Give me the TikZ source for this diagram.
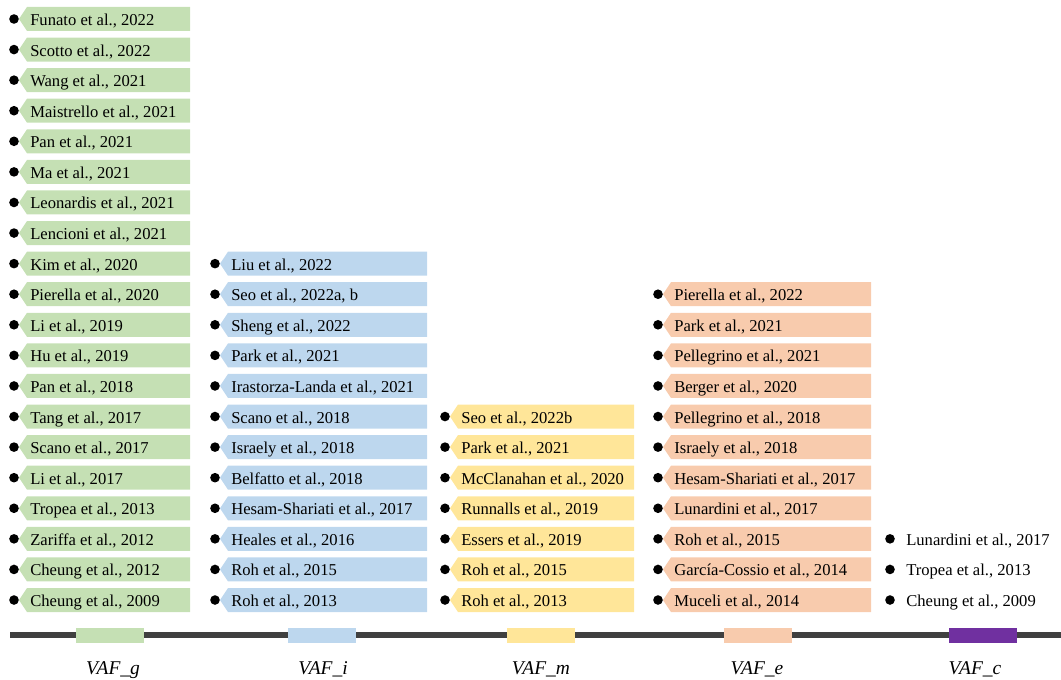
\documentclass[tikz,border=0pt]{standalone}
\usepackage{fontspec}
\setmainfont{Liberation Serif}
\definecolor{vafg}{HTML}{C5E0B4}
\definecolor{vafi}{HTML}{BDD7EE}
\definecolor{vafm}{HTML}{FFE699}
\definecolor{vafe}{HTML}{F8CBAD}
\definecolor{vafc}{HTML}{7030A0}
\definecolor{axisgray}{HTML}{404040}

% one column of studies: #1 name, #2 fill, #3 bullet x, #4 right edge, #5 first row, #6 entries
\newcommand{\vafcolumn}[6]{%
  \foreach \entry [count=\i from #5] in {#6} {
    \path[fill=#2, shift={(#3,19+30.58*\i)}]
      (5,0) -- (13,-12) -- (#4-#3,-12) -- (#4-#3,12) -- (13,12) -- cycle;
    \fill (#3,19+30.58*\i) circle (3.6pt);
    \node[studytext] (#1-\i) at (#3+16,25.5+30.58*\i) {\entry};
  }}

\begin{document}
\begin{tikzpicture}[x=0.75pt, y=-0.75pt,
      font=\fontsize{12.45}{15}\selectfont,
      studytext/.style={anchor=base west, inner sep=0pt},
      vafbar/.style={minimum width=51pt, minimum height=11.25pt, inner sep=0pt},
      vaflabel/.style={anchor=base, inner sep=0pt, font=\fontsize{14.6}{17}\selectfont\itshape}]
  \useasboundingbox (0,0) rectangle (1061,680);

  \vafcolumn{g}{vafg}{14}{190}{0}{{Funato et al., 2022},{Scotto et al., 2022},
    {Wang et al., 2021},{Maistrello et al., 2021},{Pan et al., 2021},{Ma et al., 2021},
    {Leonardis et al., 2021},{Lencioni et al., 2021},{Kim et al., 2020},
    {Pierella et al., 2020},{Li et al., 2019},{Hu et al., 2019},{Pan et al., 2018},
    {Tang et al., 2017},{Scano et al., 2017},{Li et al., 2017},{Tropea et al., 2013},
    {Zariffa et al., 2012},{Cheung et al., 2012},{Cheung et al., 2009}}
  \vafcolumn{i}{vafi}{215}{427}{8}{{Liu et al., 2022},{Seo et al., 2022a, b},
    {Sheng et al., 2022},{Park et al., 2021},{Irastorza-Landa et al., 2021},
    {Scano et al., 2018},{Israely et al., 2018},{Belfatto et al., 2018},
    {Hesam-Shariati et al., 2017},{Heales et al., 2016},{Roh et al., 2015},
    {Roh et al., 2013}}
  \vafcolumn{m}{vafm}{445}{634}{13}{{Seo et al., 2022b},{Park et al., 2021},
    {McClanahan et al., 2020},{Runnalls et al., 2019},{Essers et al., 2019},
    {Roh et al., 2015},{Roh et al., 2013}}
  \vafcolumn{e}{vafe}{658}{871}{9}{{Pierella et al., 2022},{Park et al., 2021},
    {Pellegrino et al., 2021},{Berger et al., 2020},{Pellegrino et al., 2018},
    {Israely et al., 2018},{Hesam-Shariati et al., 2017},{Lunardini et al., 2017},
    {Roh et al., 2015},{García-Cossio et al., 2014},{Muceli et al., 2014}}
  \vafcolumn{c}{none}{890}{890}{17}{{Lunardini et al., 2017},{Tropea et al., 2013},
    {Cheung et al., 2009}}

  % axis with the five groups
  \coordinate (axl) at (10,635);
  \coordinate (axr) at (1061,635);
  \draw[axisgray, line width=4.5pt] (axl) -- (axr);
  \node[vafbar, fill=vafg] (bg) at (110,635.5) {};
  \node[vafbar, fill=vafi] (bi) at (322,635.5) {};
  \node[vafbar, fill=vafm] (bm) at (541,635.5) {};
  \node[vafbar, fill=vafe] (be) at (758,635.5) {};
  \node[vafbar, fill=vafc] (bc) at (983,635.5) {};
  \node[vaflabel] (lg) at (113,674.5) {VAF\_g};
  \node[vaflabel] (li) at (323,674.5) {VAF\_i};
  \node[vaflabel] (lm) at (541,674.5) {VAF\_m};
  \node[vaflabel] (le) at (757,674.5) {VAF\_e};
  \node[vaflabel] (lc) at (975,674.5) {VAF\_c};
\end{tikzpicture}
\end{document}
